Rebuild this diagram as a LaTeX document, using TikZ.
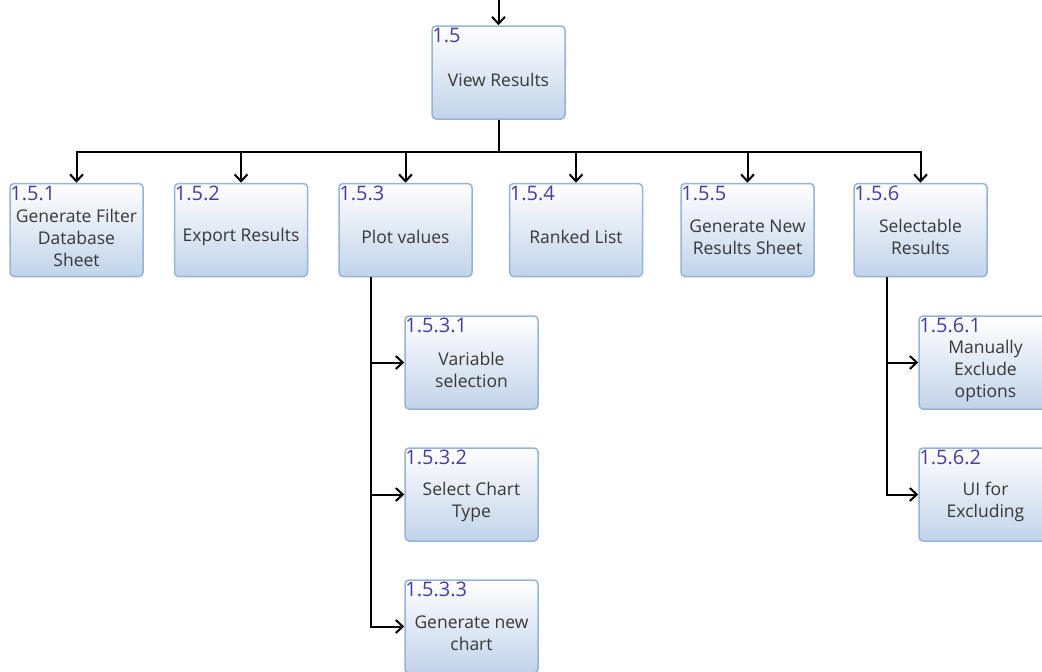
\documentclass[tikz,border=0pt]{standalone}
\usepackage{fontspec}
\setmainfont{Open Sans}
\usetikzlibrary{arrows.meta,calc}
\definecolor{boxedge}{RGB}{150,180,214}
\definecolor{boxlow}{RGB}{193,211,234}
\definecolor{numblue}{RGB}{72,60,160}
\definecolor{txtgray}{RGB}{55,55,55}
\tikzset{
  box/.style={draw=boxedge, line width=1.5pt, rounded corners=4pt,
    top color=white, bottom color=boxlow,
    minimum width=133pt, minimum height=93pt, inner sep=0pt},
  boxtext/.style={text=txtgray, font=\fontsize{17.5}{22}\selectfont, align=center, inner sep=0pt},
  num/.style={text=numblue, font=\fontsize{20}{20}\selectfont, anchor=north west, inner sep=0pt},
  arr/.style={draw=black, line width=2pt, -{Straight Barb[length=7pt,width=13pt,line width=2pt]}},
}
\begin{document}
\begin{tikzpicture}[x=1pt,y=-1pt]
\useasboundingbox (0,0) rectangle (1042,672);
\clip (0,0) rectangle (1042,672);

% top level
\node[box] (n15) at (498.5,72.5) {};
\node[boxtext] (t15) at ([yshift=-7pt]n15.center) {View Results};
\node[num] (l15) at ([shift={(1pt,-3pt)}]n15.north west) {1.5};

% second level
\node[box] (n151) at (76.5,230) {};
\node[boxtext] (t151) at ([yshift=-8pt]n151.center) {Generate Filter\\Database\\Sheet};
\node[num] (l151) at ([shift={(1pt,-3pt)}]n151.north west) {1.5.1};

\node[box] (n152) at (241,230) {};
\node[boxtext] (t152) at ([yshift=-7pt]n152.center) {Export Results};
\node[num] (l152) at ([shift={(1pt,-3pt)}]n152.north west) {1.5.2};

\node[box] (n153) at (405.5,230) {};
\node[boxtext] (t153) at ([yshift=-7pt]n153.center) {Plot values};
\node[num] (l153) at ([shift={(1pt,-3pt)}]n153.north west) {1.5.3};

\node[box] (n154) at (576,230) {};
\node[boxtext] (t154) at ([yshift=-7pt]n154.center) {Ranked List};
\node[num] (l154) at ([shift={(1pt,-3pt)}]n154.north west) {1.5.4};

\node[box] (n155) at (747.5,230) {};
\node[boxtext] (t155) at ([yshift=-7pt]n155.center) {Generate New\\Results Sheet};
\node[num] (l155) at ([shift={(1pt,-3pt)}]n155.north west) {1.5.5};

\node[box] (n156) at (920.5,230) {};
\node[boxtext] (t156) at ([yshift=-7pt]n156.center) {Selectable\\Results};
\node[num] (l156) at ([shift={(1pt,-3pt)}]n156.north west) {1.5.6};

% third level under 1.5.3
\node[box] (n1531) at (471.5,362.5) {};
\node[boxtext] (t1531) at ([yshift=-7pt]n1531.center) {Variable\\selection};
\node[num] (l1531) at ([shift={(1pt,-3pt)}]n1531.north west) {1.5.3.1};

\node[box] (n1532) at (471.5,494.5) {};
\node[boxtext] (t1532) at ([yshift=-7pt]n1532.center) {Select Chart\\Type};
\node[num] (l1532) at ([shift={(1pt,-3pt)}]n1532.north west) {1.5.3.2};

\node[box] (n1533) at (471.5,626.5) {};
\node[boxtext] (t1533) at ([yshift=-7pt]n1533.center) {Generate new\\chart};
\node[num] (l1533) at ([shift={(1pt,-3pt)}]n1533.north west) {1.5.3.3};

% third level under 1.5.6
\node[box] (n1561) at (985.5,362.5) {};
\node[boxtext] (t1561) at ([yshift=-8pt]n1561.center) {Manually\\Exclude\\options};
\node[num] (l1561) at ([shift={(1pt,-3pt)}]n1561.north west) {1.5.6.1};

\node[box] (n1562) at (985.5,494.5) {};
\node[boxtext] (t1562) at ([yshift=-7pt]n1562.center) {UI for\\Excluding};
\node[num] (l1562) at ([shift={(1pt,-3pt)}]n1562.north west) {1.5.6.2};

% connectors
\coordinate (in15) at (498.5,0);
\draw[arr] (in15) -- (n15.north);

\coordinate (bus) at (498.5,152);
\foreach \c in {n151,n152,n153,n154,n155,n156}
  \draw[arr] (n15.south) -- (bus) -| (\c.north);

\coordinate (trunk3) at ($(n153.south west)+(33,0)$);
\foreach \c in {n1531,n1532,n1533}
  \draw[arr] (trunk3) |- (\c.west);

\coordinate (trunk6) at ($(n156.south west)+(34,0)$);
\foreach \c in {n1561,n1562}
  \draw[arr] (trunk6) |- (\c.west);
\end{tikzpicture}
\end{document}
